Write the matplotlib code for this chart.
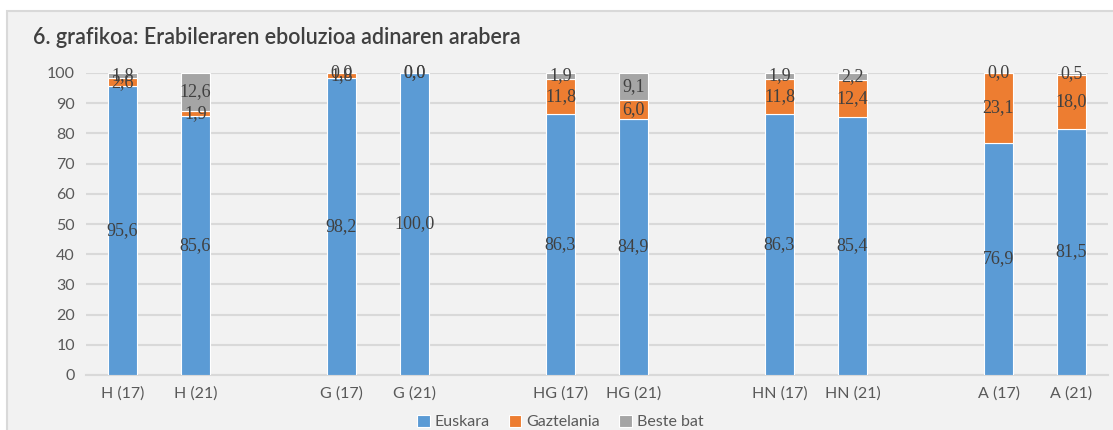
import matplotlib.pyplot as plt
import numpy as np
from matplotlib.patches import Rectangle

categories = ['H (17)', 'H (21)', 'G (17)', 'G (21)', 'HG (17)', 'HG (21)',
              'HN (17)', 'HN (21)', 'A (17)', 'A (21)']
euskara = [95.6, 85.6, 98.2, 100.0, 86.3, 84.9, 86.3, 85.4, 76.9, 81.5]
gaztelania = [2.6, 1.9, 1.8, 0.0, 11.8, 6.0, 11.8, 12.4, 23.1, 18.0]
beste = [1.8, 12.6, 0.0, 0.0, 1.9, 9.1, 1.9, 2.2, 0.0, 0.5]

series = [('Euskara', euskara, '#5b9bd5'),
          ('Gaztelania', gaztelania, '#ed7d31'),
          ('Beste bat', beste, '#a5a5a5')]

fig = plt.figure(figsize=(11.13, 4.30), dpi=100)
fig.patches.append(Rectangle((7 / 1113, -0.1), 1.2, (430 - 11) / 430 + 0.1,
                             transform=fig.transFigure, facecolor='#f2f2f2',
                             edgecolor='#d9d9d9', linewidth=1.5, zorder=-5))

ax = fig.add_axes([86 / 1113, 1 - 375 / 430, 1022 / 1113, 302 / 430])
ax.set_facecolor('none')

# one empty slot between every pair
x = np.array([i + i // 2 for i in range(len(categories))], dtype=float)
bottom = np.zeros(len(categories))
for name, vals, col in series:
    vals = np.array(vals)
    ax.bar(x, vals, 0.4, bottom=bottom, color=col, edgecolor='white',
           linewidth=0.8, label=name, zorder=3)
    for xi, b, v in zip(x, bottom, vals):
        ax.text(xi, b + v / 2, f'{v:.1f}'.replace('.', ','), ha='center',
                va='center', fontsize=13, color='#404040',
                family='Liberation Serif', zorder=4)
    bottom += vals

ax.set_xlim(-0.5, 13.5)
ax.set_ylim(0, 100)
ax.set_yticks(np.arange(0, 101, 10))
ax.set_xticks(x)
ax.set_xticklabels(categories)
ax.grid(axis='y', color='#d9d9d9', linewidth=1.5, zorder=0)
for s in ['top', 'right', 'left']:
    ax.spines[s].set_visible(False)
ax.spines['bottom'].set_color('#d9d9d9')
ax.spines['bottom'].set_linewidth(1.5)
ax.tick_params(length=0, labelsize=11.5, labelcolor='#595959', pad=8)
for lbl in ax.get_xticklabels() + ax.get_yticklabels():
    lbl.set_family('Lato')

fig.text(33 / 1113, 1 - 38 / 430, '6. grafikoa: Erabileraren eboluzioa adinaren arabera',
         fontsize=15.5, color='#404040', family='Lato', weight='semibold',
         va='center')

fig.legend(loc='center', bbox_to_anchor=(560 / 1113, 1 - 422 / 430), ncol=3,
           frameon=False, handlelength=0.8, handleheight=0.8, handletextpad=0.3,
           columnspacing=1.2, prop={'family': 'Lato', 'size': 11.5},
           labelcolor='#595959')

fig.savefig('out.png', dpi=100)
